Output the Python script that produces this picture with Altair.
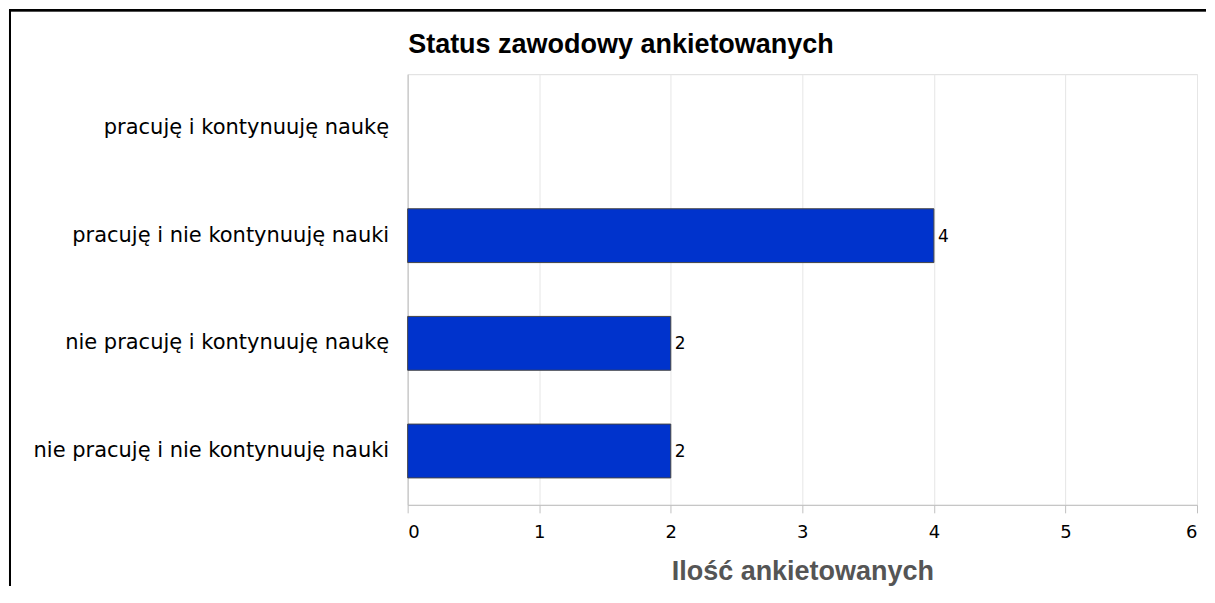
import altair as alt
import pandas as pd

categories = [
    "pracuję i kontynuuję naukę",
    "pracuję i nie kontynuuję nauki",
    "nie pracuję i kontynuuję naukę",
    "nie pracuję i nie kontynuuję nauki",
]
counts = [0, 4, 2, 2]
value_labels = ["", "4", "2", "2"]
x_ticks = [0, 1, 2, 3, 4, 5, 6]

df = pd.DataFrame({"status": categories, "count": counts, "label": value_labels})

W, H = 790, 431

y_scale = alt.Scale(domain=categories, paddingInner=0.5, paddingOuter=0.25)
y_enc = alt.Y(
    "status:N",
    scale=y_scale,
    axis=alt.Axis(
        title=None, ticks=False, labelPadding=19, labelFontSize=21,
        labelFont="DejaVu Sans", labelColor="#000000", domainColor="#c0c0c0",
        labelLimit=600,
    ),
)
x_scale = alt.Scale(domain=[0, 6], nice=False)
x_enc = alt.X(
    "count:Q",
    scale=x_scale,
    axis=alt.Axis(
        orient="bottom", title="Ilość ankietowanych", values=x_ticks, format="d",
        tickSize=8, tickColor="#c0c0c0", domainColor="#c0c0c0",
        labelFont="DejaVu Sans", labelFontSize=18, labelColor="#000000", labelPadding=11,
        titleFont="Liberation Sans", titleFontSize=27, titleFontWeight="bold",
        titleColor="#555555", titlePadding=17,
        gridColor="#e6e6e6",
    ),
)
x_top = alt.X(
    "count:Q",
    scale=x_scale,
    axis=alt.Axis(
        orient="top", title="Status zawodowy ankietowanych", labels=False, ticks=False,
        domain=False, grid=False, titleAnchor="start", titleAlign="left",
        titleFont="Liberation Sans", titleFontSize=27, titleFontWeight="bold",
        titleColor="#000000", titlePadding=16,
    ),
)

bars = alt.Chart(df).transform_filter(alt.datum.count > 0).mark_bar(
    color="#0033cc", stroke="#444444", strokeWidth=1
).encode(x=x_enc, y=y_enc)

texts = alt.Chart(df).mark_text(
    align="left", baseline="middle", dx=4, dy=1, fontSize=17, font="DejaVu Sans", color="#000000"
).encode(x=x_top, y=alt.Y("status:N", scale=y_scale), text="label:N")

frame_left = alt.Chart(df).mark_rule(color="#000000", strokeWidth=2).encode(
    x=alt.value(-398), y=alt.value(-65), y2=alt.value(512)
)
frame_top = alt.Chart(df).mark_rule(color="#000000", strokeWidth=2).encode(
    x=alt.value(-399), x2=alt.value(799), y=alt.value(-64)
)

chart = alt.layer(bars, texts, frame_left, frame_top).resolve_axis(x="independent").properties(
    width=W, height=H, padding=0,
).configure_view(stroke="#cccccc").configure(background="#ffffff")

chart.save("out.html", embed_options={"renderer": "svg", "actions": False})
